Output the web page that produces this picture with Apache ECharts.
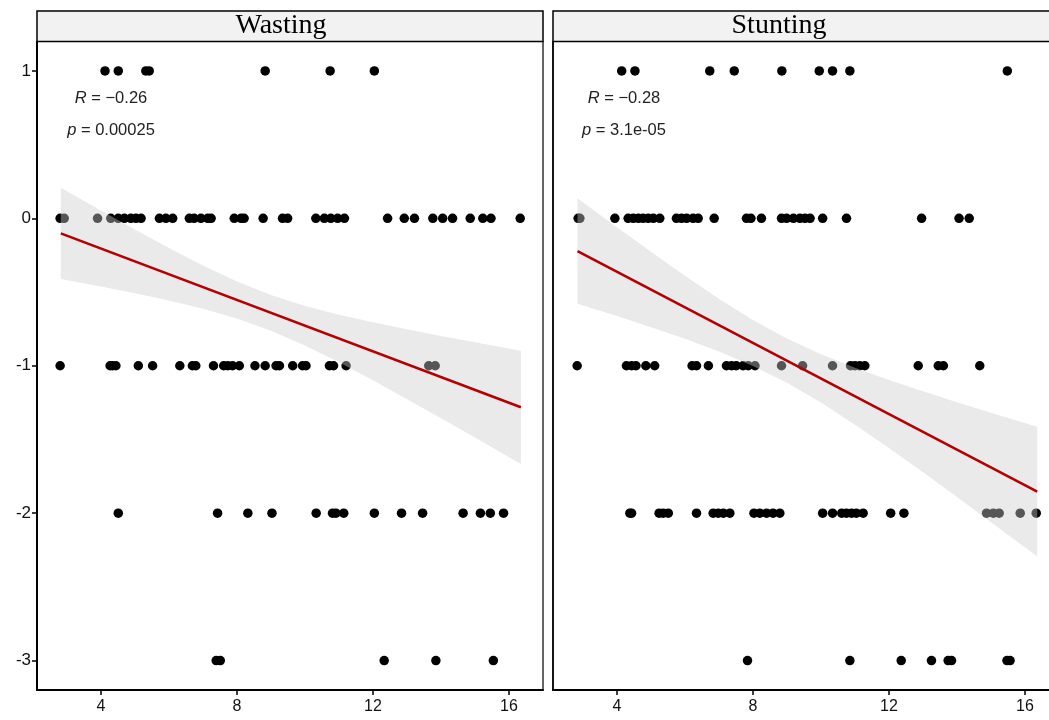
<!DOCTYPE html>
<html>
<head>
<meta charset="utf-8">
<script src="https://cdn.jsdelivr.net/npm/echarts@6/dist/echarts.min.js"></script>
<style>
html,body{margin:0;padding:0;background:#fff;}
#chart{width:1049px;height:720px;}
</style>
</head>
<body>
<div id="chart"></div>
<script>
// ---- tick labels ----
const xTicks = [4, 8, 12, 16];
const yTicks = [-3, -2, -1, 0, 1];
const panelTitles = ['Wasting', 'Stunting'];
const statR = ['\u22120.26', '\u22120.28'];
const statP = ['0.00025', '3.1e-05'];

// ---- Wasting: x values of points at each y level ----
const wastingAt1 = [4.12, 4.51, 5.32, 5.42, 8.83, 10.74, 12.04];
const wastingAt0 = [2.80, 2.92, 3.90, 4.29, 4.51, 4.69, 4.88, 5.03, 5.18, 5.72, 5.91, 6.11, 6.60, 6.74, 6.94, 7.14, 7.24, 7.92, 8.12, 8.21, 8.77, 9.34, 9.49, 10.32, 10.57, 10.76, 10.96, 11.16, 12.43, 12.92, 13.22, 13.76, 14.05, 14.34, 14.86, 15.23, 15.47, 16.33];
const wastingAtM1 = [2.80, 4.27, 4.34, 4.44, 5.10, 5.52, 6.32, 6.69, 6.79, 7.31, 7.61, 7.73, 7.87, 8.07, 8.53, 8.83, 9.15, 9.25, 9.64, 9.93, 10.03, 10.72, 10.84, 11.21, 13.64, 13.83];
const wastingAtM2 = [4.51, 7.43, 8.32, 9.03, 10.33, 10.81, 10.91, 11.14, 12.04, 12.84, 13.46, 14.65, 15.16, 15.45, 15.84];
const wastingAtM3 = [7.39, 7.51, 12.33, 13.85, 15.54];

// ---- Stunting: x values of points at each y level ----
const stuntingAt1 = [4.14, 4.53, 6.73, 7.45, 8.85, 9.95, 10.34, 10.85, 15.48];
const stuntingAt0 = [2.86, 2.91, 3.94, 4.33, 4.48, 4.63, 4.77, 4.92, 5.07, 5.26, 5.75, 5.90, 6.05, 6.24, 6.39, 6.86, 7.81, 7.94, 8.25, 8.84, 8.99, 9.19, 9.38, 9.53, 9.68, 10.05, 10.75, 12.96, 14.06, 14.36];
const stuntingAtM1 = [2.83, 4.28, 4.43, 4.56, 4.85, 5.11, 6.21, 6.34, 6.69, 7.22, 7.37, 7.51, 7.71, 7.86, 8.06, 8.84, 9.46, 10.34, 10.87, 11.00, 11.14, 11.29, 12.86, 13.45, 13.60, 14.67];
const stuntingAtM2 = [4.38, 4.43, 5.24, 5.36, 5.51, 6.34, 6.83, 6.98, 7.13, 7.32, 8.03, 8.20, 8.40, 8.59, 8.79, 10.05, 10.34, 10.61, 10.75, 10.90, 11.04, 11.24, 12.05, 12.44, 14.87, 15.07, 15.24, 15.86, 16.33];
const stuntingAtM3 = [7.84, 10.85, 12.36, 13.25, 13.74, 13.84, 15.47, 15.56];

// ---- fitted lines ----
const wastingLineX = [2.82, 16.35];
const wastingLineY = [-0.102, -1.282];
const stuntingLineX = [2.84, 16.36];
const stuntingLineY = [-0.222, -1.854];

// ---- confidence bands ----
const wastingBandX  = [2.82, 4, 5, 6, 7, 8, 9, 10, 11, 12, 13, 14, 15, 16.35];
const wastingBandHi = [0.207, 0.053, -0.076, -0.201, -0.320, -0.429, -0.520, -0.594, -0.654, -0.705, -0.753, -0.798, -0.841, -0.898];
const wastingBandLo = [-0.411, -0.463, -0.508, -0.557, -0.613, -0.679, -0.762, -0.862, -0.977, -1.099, -1.227, -1.356, -1.487, -1.666];
const stuntingBandX  = [2.84, 4, 5, 6, 7, 8, 9, 10, 11, 12, 13, 14, 15, 16.36];
const stuntingBandHi = [0.136, -0.061, -0.227, -0.389, -0.545, -0.689, -0.815, -0.922, -1.014, -1.096, -1.173, -1.247, -1.319, -1.414];
const stuntingBandLo = [-0.580, -0.663, -0.738, -0.817, -0.903, -1.001, -1.116, -1.250, -1.400, -1.558, -1.723, -1.891, -2.061, -2.294];

function levelPoints(a1, a0, am1, am2, am3) {
  const out = [];
  [[a1, 1], [a0, 0], [am1, -1], [am2, -2], [am3, -3]].forEach(([arr, y]) => arr.forEach(x => out.push([x, y])));
  return out;
}
const panels = [
  { pts: levelPoints(wastingAt1, wastingAt0, wastingAtM1, wastingAtM2, wastingAtM3),
    lx: wastingLineX, ly: wastingLineY, bx: wastingBandX, hi: wastingBandHi, lo: wastingBandLo },
  { pts: levelPoints(stuntingAt1, stuntingAt0, stuntingAtM1, stuntingAtM2, stuntingAtM3),
    lx: stuntingLineX, ly: stuntingLineY, bx: stuntingBandX, hi: stuntingBandHi, lo: stuntingBandLo }
];

const SANS = '"Liberation Sans", Arial, sans-serif';
const SERIF = '"Liberation Serif", "Times New Roman", serif';
const gridLefts = [37, 553];
const GRID_TOP = 41.5, GRID_W = 506, GRID_H = 648.5;

const grids = gridLefts.map((l, i) => ({
  left: l, top: GRID_TOP, width: GRID_W, height: GRID_H,
  outerBoundsMode: 'none', containLabel: false,
  show: true, borderColor: '#000', borderWidth: 1.2, backgroundColor: 'transparent'
}));

const xAxes = gridLefts.map((l, i) => ({
  type: 'value', gridIndex: i, min: 2.12, max: 17.0,
  axisLine: { show: true, onZero: false, lineStyle: { color: '#000', width: 2 } },
  axisTick: { show: true, length: 5, customValues: xTicks, lineStyle: { color: '#000', width: 1.5 } },
  axisLabel: { show: true, customValues: xTicks, margin: 9, fontSize: 16, color: '#111', fontFamily: SANS },
  splitLine: { show: false }
}));

const yAxes = gridLefts.map((l, i) => ({
  type: 'value', gridIndex: i, min: -3.2, max: 1.2,
  axisLine: { show: true, onZero: false, lineStyle: { color: '#000', width: i === 0 ? 2 : 1.6 } },
  axisTick: { show: i === 0, length: 5, customValues: yTicks, lineStyle: { color: '#000', width: 1.5 } },
  axisLabel: { show: i === 0, customValues: yTicks, margin: 6, fontSize: 17, color: '#111', fontFamily: SANS },
  splitLine: { show: false }
}));

const series = [];
panels.forEach((p, i) => {
  series.push({
    type: 'scatter', xAxisIndex: i, yAxisIndex: i, data: p.pts,
    symbol: 'circle', symbolSize: 9.5, itemStyle: { color: '#000', opacity: 1 }, z: 2,
    silent: true, animation: false
  });
  series.push({
    type: 'custom', xAxisIndex: i, yAxisIndex: i, z: 3, silent: true, animation: false,
    data: p.bx.map((x, j) => [x, p.lo[j], p.hi[j]]),
    encode: { x: 0, y: [1, 2] },
    renderItem: function (params, api) {
      if (params.dataIndex !== 0) return null;
      const top = p.bx.map((x, j) => api.coord([x, p.hi[j]]));
      const bot = p.bx.map((x, j) => api.coord([x, p.lo[j]])).reverse();
      return { type: 'polygon', shape: { points: top.concat(bot) },
               style: { fill: 'rgba(205,205,205,0.42)', stroke: null } };
    }
  });
  series.push({
    type: 'line', xAxisIndex: i, yAxisIndex: i, z: 4, silent: true, animation: false,
    data: p.lx.map((x, j) => [x, p.ly[j]]),
    symbol: 'none', lineStyle: { color: '#b40000', width: 2.6 }
  });
});

// strips and annotation texts
const stripCenters = [281, 779];
const statCenters = [111, 624];
const graphic = [];
gridLefts.forEach((l, i) => {
  graphic.push({
    type: 'rect', z: 10, silent: true,
    shape: { x: l, y: 11, width: GRID_W, height: GRID_TOP - 11 },
    style: { fill: '#f2f2f2', stroke: '#000', lineWidth: 1.5 }
  });
  graphic.push({
    type: 'text', z: 11, silent: true, x: stripCenters[i], y: 26,
    style: { text: panelTitles[i], font: '28px ' + SERIF, fill: '#000', align: 'center', verticalAlign: 'middle' }
  });
  graphic.push({
    type: 'text', z: 11, silent: true, x: statCenters[i], y: 98,
    style: { text: '{i|R} = ' + statR[i], fontSize: 16.5, fontFamily: SANS, fill: '#222', align: 'center', verticalAlign: 'middle',
      rich: { i: { fontStyle: 'italic', fontSize: 16.5, fontFamily: SANS, fill: '#222' } } }
  });
  graphic.push({
    type: 'text', z: 11, silent: true, x: statCenters[i], y: 130,
    style: { text: '{i|p} = ' + statP[i], fontSize: 16.5, fontFamily: SANS, fill: '#222', align: 'center', verticalAlign: 'middle',
      rich: { i: { fontStyle: 'italic', fontSize: 16.5, fontFamily: SANS, fill: '#222' } } }
  });
});

const chart = echarts.init(document.getElementById('chart'), null, { renderer: 'canvas' });
chart.setOption({
  animation: false,
  backgroundColor: '#fff',
  grid: grids,
  xAxis: xAxes,
  yAxis: yAxes,
  series: series,
  graphic: graphic
});
</script>
</body>
</html>
